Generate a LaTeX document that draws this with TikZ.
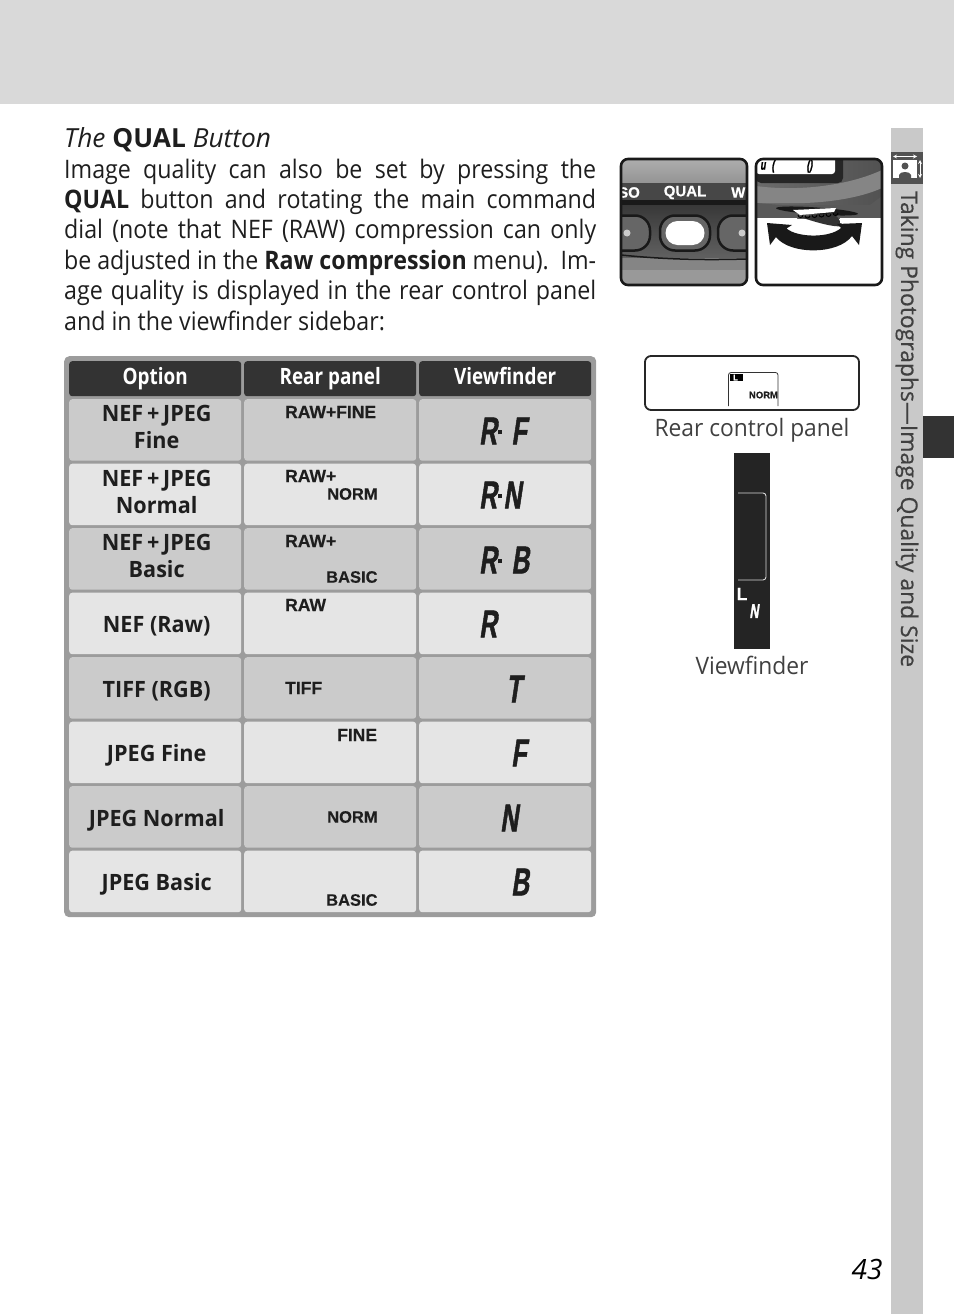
\documentclass[tikz,border=0pt]{standalone}
\usepackage{fontspec}
\setmainfont{Open Sans}
\newfontfamily\headfont[FakeStretch=0.84]{Open Sans}
\newfontfamily\bodyfont[FakeStretch=0.91]{Open Sans}
\newfontfamily\cellfont[FakeStretch=0.96]{Open Sans}
\newfontfamily\capfont[FakeStretch=0.95]{Open Sans}
\newfontfamily\sidefont[FakeBold=0.5]{Open Sans}
\newfontfamily\panelfont[BoldFeatures={FakeBold=0.4}]{Liberation Sans}
\newfontfamily\lcdfont[FakeStretch=0.63,FakeSlant=0.15,BoldFeatures={FakeBold=1.2}]{Liberation Sans}
\usetikzlibrary{matrix, positioning}
\definecolor{bandgray}{HTML}{D9D9D9}
\definecolor{sidegray}{HTML}{C9C9C9}
\definecolor{framegray}{HTML}{9C9C9C}
\definecolor{headblack}{HTML}{333333}
\definecolor{rowdark}{HTML}{CBCBCB}
\definecolor{rowlight}{HTML}{E5E5E5}
\definecolor{inktext}{HTML}{1E1E1E}
\newcommand{\twolines}[2]{\hspace*{3pt}\raisebox{-2.5pt}[0pt][0pt]{\parbox[c]{160pt}{\centering #1\par #2}}}
\newcommand{\oneline}[1]{\hspace*{3pt}\raisebox{-9.5pt}[0pt][0pt]{#1}}
\newcommand{\lcddot}{\hspace{1.5pt}\raisebox{10pt}{\rule{4pt}{4.5pt}}\hspace{1pt}}
\newcommand{\pn}[1]{{\fontsize{16.5}{20}\selectfont #1}}
\tikzset{
    cellbox/.style={rounded corners=3pt,inner sep=0pt,outer sep=0pt,anchor=center,minimum width=172pt,minimum height=61.5pt,
        align=center,text=inktext,font=\cellfont\fontsize{22.5}{27}\selectfont\bfseries},
    headbox/.style={nodes={fill=headblack,minimum height=35pt,text height=17pt,text depth=6pt,text=white,font=\headfont\fontsize{22.5}{27}\selectfont\bfseries}},
    darkrow/.style={nodes={fill=rowdark}},
    lightrow/.style={nodes={fill=rowlight}},
    paneltxt/.style={anchor=west,inner sep=0pt,text=inktext,font=\panelfont\fontsize{17.5}{20}\selectfont\bfseries},
    lcdtxt/.style={anchor=west,inner sep=0pt,text=inktext,font=\lcdfont\fontsize{39}{40}\selectfont\bfseries},
    captiontxt/.style={inner sep=0pt,text=black!75,font=\capfont\fontsize{24}{28}\selectfont},
}
\begin{document}
\begin{tikzpicture}[x=1pt,y=-1pt]
\useasboundingbox (0,0) rectangle (954,1314);
% page furniture
\fill[bandgray] (0,0) rectangle (954,104);
\fill[sidegray] (891,128) rectangle (923,1314);
\fill[headblack] (923,416) rectangle (954,458);
\fill[black!68] (891,152) rectangle (923,184);
\fill[white] (893,160) rectangle (917,178);
\fill[black!68] (905,166) circle (3.5) (899,178) -- (899,175) .. controls (900,171) and (910,171) .. (911,175) -- (911,178) -- cycle;
\draw[white,line width=0.8pt,<->,>=stealth] (893,156.5) -- (917,156.5);
\draw[white,line width=0.8pt,<->,>=stealth] (920,160) -- (920,178);
\node[rotate=-90,anchor=west,inner sep=0pt,text=black!75,font=\sidefont\fontsize{22.9}{26}\selectfont] (sidetitle) at (907,191) {Taking Photographs—Image Quality and Size};
\node[inner sep=0pt,font=\fontsize{28}{32}\selectfont\itshape] (pagenum) at (867,1269) {43};
% intro text
\node[anchor=west,inner sep=0pt,text=inktext,font=\fontsize{26.3}{30}\selectfont] (heading) at (64,139.5) {\itshape The \upshape\bfseries QUAL \mdseries\itshape Button};
\node[anchor=north west,inner sep=0pt,text width=532pt,align=justify,text=inktext,font=\bodyfont\fontsize{25.5}{30.4}\selectfont] (intro) at (64,158.5) {%
    Image quality can also be set by pressing the\linebreak
    \textbf{QUAL} button and rotating the main command\linebreak
    dial (note that NEF (RAW) compression can only\linebreak
    be adjusted in the \textbf{Raw compression} menu).\ \ Im-\linebreak
    age quality is displayed in the rear control panel\linebreak
    and in the viewfinder sidebar:\par};
% table
\matrix (m) [matrix of nodes,nodes in empty cells,anchor=north west,fill=framegray,rounded corners=5pt,
    inner sep=5pt,row sep=3pt,column sep=3pt,nodes={cellbox},
    row 1/.style={headbox},row 2/.style={darkrow},row 3/.style={lightrow},row 4/.style={darkrow},
    row 5/.style={lightrow},row 6/.style={darkrow},row 7/.style={lightrow},row 8/.style={darkrow},row 9/.style={lightrow}]
    at (64,356)
{%
    Option& Rear panel& Viewfinder\\
    \twolines{NEF\,+\,JPEG}{Fine}& & \\
    \twolines{NEF\,+\,JPEG}{Normal}& & \\
    \twolines{NEF\,+\,JPEG}{Basic}& & \\
    \oneline{NEF (Raw)}& & \\
    \oneline{TIFF (RGB)}& & \\
    \oneline{JPEG Fine}& & \\
    \oneline{JPEG Normal}& & \\
    \oneline{JPEG Basic}& & \\
};
\foreach \nm/\xx/\yy/\txt in {a/285/412/RAW+FINE,b/285/476/RAW+,c/327/494/\pn{NORM},d/285/541/RAW+,e/326/577/\pn{BASIC},
    f/285/605/RAW,g/285/688/TIFF,h/337/735/FINE,i/327/817/\pn{NORM},j/326/900/\pn{BASIC}}
    \node[paneltxt] (rear\nm) at (\xx,\yy) {\txt};
\foreach \nm/\xx/\yy/\txt in {a/479/431/R\lcddot\hspace{8pt}F,b/479/495/R\lcddot N,c/479/560/R\lcddot\hspace{8pt}B,
    d/479/624/R,e/506/689/T,f/511/753/F,g/500/818/N,h/511/882/B}
    \node[lcdtxt] (vf\nm) at (\xx,\yy) {\txt};
% button picture
\begin{scope}
\clip[rounded corners=7pt] (621,159) rectangle (747,285);
\shade[top color=black!32,bottom color=black!42] (621,159) rectangle (747,183);
\fill[black!72] (621,183) rectangle (747,200);
\fill[black!90] (621,200) rectangle (747,205);
\shade[top color=black!78,bottom color=black!62] (621,205) rectangle (747,258);
\fill[black!48] (621,258) rectangle (747,285);
\fill[black!40] (621,270) rectangle (747,285);
\draw[black!90,line width=1.5pt] (621,255) .. controls (670,260) and (710,260) .. (747,259);
\foreach \xx in {625,685,743}
    \draw[fill=black!60,draw=black!90,line width=2.5pt,rounded corners=15pt] (\xx-25,215.5) rectangle (\xx+25,250.5);
\fill[white,rounded corners=12pt] (665.5,221) rectangle (704.5,245);
\fill[black!20] (627,233) circle (3.5) (742,233) circle (3.5);
\node[inner sep=0pt,text=white,font=\panelfont\fontsize{15}{16}\selectfont\bfseries] (qual) at (685,192.5) {QUAL};
\node[inner sep=0pt,text=white,anchor=west,font=\panelfont\fontsize{15}{16}\selectfont\bfseries] (iso) at (618,192.5) {SO};
\node[inner sep=0pt,text=white,anchor=west,font=\panelfont\fontsize{15}{16}\selectfont\bfseries] (wb) at (731,192.5) {W};
\end{scope}
\draw[line width=2.6pt,black!90,rounded corners=7pt] (621,159) rectangle (747,285);
% dial picture
\begin{scope}
\clip[rounded corners=7pt] (756,159) rectangle (882,285);
\fill[white] (756,159) rectangle (882,285);
\shade[left color=black!58,right color=black!68] (756,159) rectangle (882,218);
\fill[black!48] (756,186) .. controls (800,192) and (850,185) .. (882,170) -- (882,188) .. controls (860,198) and (830,202) .. (805,203) -- (756,203) -- cycle;
\fill[black!85,rounded corners=5pt] (756,155) rectangle (843,183);
\fill[white,rounded corners=3pt] (756,155) rectangle (835,174);
\fill[black!65] (756,203) -- (782,205) -- (870,205) -- (882,196) -- (882,218) -- (756,218) -- cycle;
\fill[black!90,rotate around={-4:(817,211)}] (817,211) ellipse (41 and 3.5);
\fill[white] (793,210) -- (836,208) -- (834,212) -- (800,215) -- cycle;
\fill[black!80] (800,217) .. controls (815,222) and (835,228) .. (843,226) -- (838,218) -- (833,213) -- cycle;
\foreach \xx/\yy in {798/212,805/212.5,812/212,819/211.5,826/211,833/210}
    \draw[black,line width=1pt] (\xx,\yy+3) arc (180:0:2.5);
\fill[white] (756,218) rectangle (797,223) (840,218) rectangle (882,223);
\fill[black!90] (767,223) -- (792,225) -- (786.5,228.5) .. controls (798,238) and (830,238) .. (841,228) -- (837,224) -- (862,223) -- (859,245) -- (852,236)
    .. controls (838,255) and (790,255) .. (776,237) -- (770,245) -- cycle;
\node[inner sep=0pt,text=black,anchor=west,font=\lcdfont\fontsize{14}{16}\selectfont\bfseries] (lcdtop) at (760,166) {u\hspace{6pt}(\hspace{32pt}()};
\end{scope}
\draw[line width=2.6pt,black!90,rounded corners=7pt] (756,159) rectangle (882,285);
% rear control panel
\node[draw=black!85,line width=1.8pt,rounded corners=6pt,minimum width=214pt,minimum height=54pt,inner sep=0pt] (panel) at (752,383) {};
\draw[black!80,line width=0.8pt,rounded corners=2.5pt] (728.5,406) |- (778,372.5) -- (778,406);
\fill[black] (730,374) rectangle (743,381);
\node[inner sep=0pt,text=white,font=\panelfont\fontsize{8}{8}\selectfont\bfseries] (panelL) at (735.5,377.5) {L};
\node[inner sep=0pt,text=inktext,font=\panelfont\fontsize{9.5}{10}\selectfont\bfseries] (panelnorm) at (763.5,395) {NORM};
\node[captiontxt,below=7pt of panel] (panelcap) {Rear control panel};
% viewfinder
\node[fill=headblack!70!black,minimum width=36pt,minimum height=196pt,inner sep=0pt] (finder) at (752,551) {};
\draw[white!85!black,line width=0.9pt,rounded corners=3pt] (738,493) -- (766,493) -- (766,580) -- (738,580);
\node[inner sep=0pt,text=white,font=\panelfont\fontsize{17.5}{18}\selectfont\bfseries] (finderL) at (742,594) {L};
\node[inner sep=0pt,text=white,font=\lcdfont\fontsize{20}{22}\selectfont\bfseries] (finderN) at (754,611) {N};
\node[captiontxt,below=7pt of finder] (findercap) {Viewfinder};
\end{tikzpicture}
\end{document}
